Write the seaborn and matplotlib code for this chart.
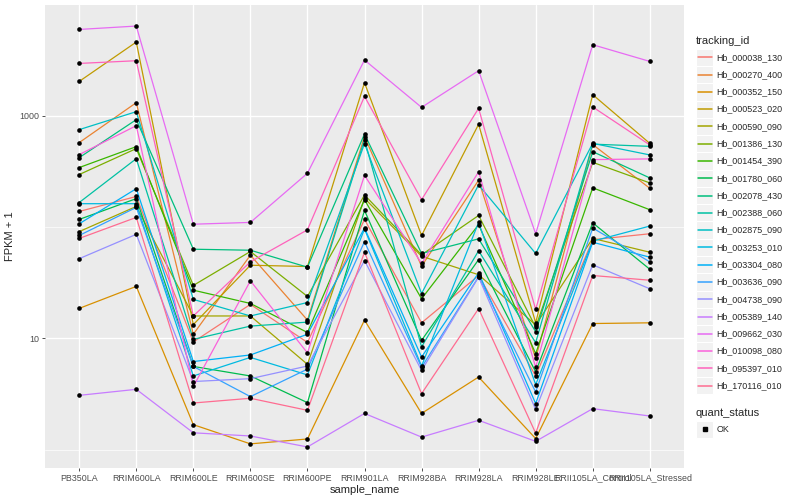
import numpy as np
import pandas as pd
import matplotlib
matplotlib.use('Agg')
import matplotlib.pyplot as plt
import seaborn as sns
from matplotlib.patches import Rectangle
from matplotlib.ticker import FixedLocator, NullFormatter

SAMPLES = ['PB350LA', 'RRIM600LA', 'RRIM600LE', 'RRIM600SE', 'RRIM600PE', 'RRIM901LA',
           'RRIM928BA', 'RRIM928LA', 'RRIM928LE', 'RRII105LA_Control', 'RRII105LA_Stressed']

# FPKM + 1 per gene, one value per sample
Hb_000038_130 = [138, 188, 9.3, 20.2, 9.2, 117, 13.8, 36.7, 4.6, 77, 87]
Hb_000270_400 = [573, 1308, 10.9, 55.9, 14.6, 648, 44.5, 263, 6.6, 550, 223]
Hb_000352_150 = [18.6, 29.3, 1.68, 1.13, 1.25, 14.6, 2.12, 4.5, 1.26, 13.6, 13.8]
Hb_000523_020 = [2030, 4580, 13.3, 45.4, 44.2, 1977, 84, 836, 13.8, 1543, 564]
Hb_000590_090 = [91, 153, 15.9, 15.9, 5.85, 181, 54.7, 37.3, 13.2, 79, 59.4]
Hb_001386_130 = [296, 506, 29.9, 60.3, 23.8, 194, 56.3, 127, 12.6, 381, 249]
Hb_001454_390 = [342, 527, 27.1, 20.6, 11.3, 176, 22.7, 105, 7.3, 225, 143]
Hb_001780_060 = [117, 180, 5.6, 4.6, 2.65, 141, 9.6, 51, 5.0, 109, 41.8]
Hb_002078_430 = [420, 921, 63.2, 61.9, 43.6, 685, 57.9, 78.3, 11.5, 475, 276]
Hb_002388_060 = [166, 411, 9.8, 12.9, 14.0, 609, 8.4, 61.2, 9.15, 555, 530]
Hb_002875_090 = [749, 1086, 22.4, 15.9, 21.0, 561, 25.3, 239, 57.9, 564, 444]
Hb_003253_010 = [162, 162, 4.6, 6.75, 4.7, 96, 5.65, 110, 3.85, 74.6, 102]
Hb_003304_080 = [107, 221, 6.2, 7.1, 10.9, 98, 6.8, 38.8, 2.6, 73, 53.6]
Hb_003636_090 = [84, 150, 5.6, 3.0, 5.3, 74, 5.5, 35.8, 3.3, 98, 48.7]
Hb_004738_090 = [52, 86, 4.1, 4.35, 5.65, 50, 5.16, 35.5, 2.3, 45.8, 27.9]
Hb_005389_140 = [3.08, 3.49, 1.42, 1.33, 1.06, 2.12, 1.30, 1.84, 1.19, 2.34, 2.01]
Hb_009662_030 = [5943, 6376, 106, 110, 304, 3159, 1187, 2533, 87, 4333, 3069]
Hb_010098_080 = [447, 813, 3.7, 32.9, 7.4, 291, 47.1, 313, 5.5, 403, 409]
Hb_095397_010 = [2944, 3113, 15.9, 48.7, 94.4, 1490, 176, 1163, 18.2, 1197, 546]
Hb_170116_010 = [79, 122, 2.63, 2.9, 2.26, 59.4, 3.19, 18.5, 1.41, 36.7, 33.3]

GENES = ['Hb_000038_130', 'Hb_000270_400', 'Hb_000352_150', 'Hb_000523_020', 'Hb_000590_090',
         'Hb_001386_130', 'Hb_001454_390', 'Hb_001780_060', 'Hb_002078_430', 'Hb_002388_060',
         'Hb_002875_090', 'Hb_003253_010', 'Hb_003304_080', 'Hb_003636_090', 'Hb_004738_090',
         'Hb_005389_140', 'Hb_009662_030', 'Hb_010098_080', 'Hb_095397_010', 'Hb_170116_010']
VALUES = [Hb_000038_130, Hb_000270_400, Hb_000352_150, Hb_000523_020, Hb_000590_090,
          Hb_001386_130, Hb_001454_390, Hb_001780_060, Hb_002078_430, Hb_002388_060,
          Hb_002875_090, Hb_003253_010, Hb_003304_080, Hb_003636_090, Hb_004738_090,
          Hb_005389_140, Hb_009662_030, Hb_010098_080, Hb_095397_010, Hb_170116_010]

# ggplot default hue palette for 20 levels
HUES = ['#F8766D', '#EA8331', '#D89000', '#C09B00', '#A3A500', '#7CAE00', '#39B600',
        '#00BB4E', '#00BF7D', '#00C1A3', '#00BFC4', '#00BAE0', '#00B0F6', '#35A2FF',
        '#9590FF', '#C77CFF', '#E76BF3', '#FA62DB', '#FF62BC', '#FF6C91']
PALETTE = dict(zip(GENES, HUES))

rows = []
for g, vals in zip(GENES, VALUES):
    for s, v in zip(SAMPLES, vals):
        rows.append({'tracking_id': g, 'sample_name': s, 'fpkm': v, 'quant_status': 'OK'})
df = pd.DataFrame(rows)
df['pos'] = pd.Categorical(df['sample_name'], categories=SAMPLES).codes

sns.set_style('darkgrid', {'axes.facecolor': '#EBEBEB', 'grid.color': 'white'})
plt.rcParams['font.family'] = ['Liberation Sans', 'DejaVu Sans']

W, H = 800, 500
fig = plt.figure(figsize=(8, 5), dpi=100)
L, R, T, B = 45, 684, 5, 468
ax = fig.add_axes([L / W, 1 - B / H, (R - L) / W, (B - T) / H])

sns.lineplot(data=df, x='pos', y='fpkm', hue='tracking_id', palette=PALETTE, units='tracking_id',
             estimator=None, sort=False, lw=0.9, legend=False, ax=ax)
sns.scatterplot(data=df, x='pos', y='fpkm', color='black', s=11, linewidth=0,
                marker='o', legend=False, ax=ax, zorder=3)

ax.set_yscale('log')
lo, hi = np.log10(df['fpkm'].min()), np.log10(df['fpkm'].max())
pad = 0.05 * (hi - lo)
ax.set_ylim(10 ** (lo - pad), 10 ** (hi + pad))
ax.set_xlim(-0.6, len(SAMPLES) - 1 + 0.6)

ax.set_xticks(range(len(SAMPLES)))
ax.set_xticklabels(SAMPLES)
ax.yaxis.set_major_locator(FixedLocator([10, 1000]))
ax.set_yticklabels(['10', '1000'])
ax.yaxis.set_minor_locator(FixedLocator([1, 100, 10000]))
ax.yaxis.set_minor_formatter(NullFormatter())
ax.grid(which='major', color='white', lw=1.0)
ax.grid(which='minor', axis='y', color='white', lw=0.5)
ax.tick_params(which='minor', length=0)
ax.tick_params(which='major', length=2.5, width=0.6, color='#333333', labelcolor='#4D4D4D',
               labelsize=6.4, pad=1.5, bottom=True, left=True)
for sp in ax.spines.values():
    sp.set_visible(False)
ax.set_xlabel('sample_name', fontsize=8, labelpad=2)
ax.set_ylabel('FPKM + 1', fontsize=8, labelpad=3)

# legend drawn in pixel coordinates
lax = fig.add_axes([0, 0, 1, 1], facecolor='none')
lax.set_xlim(0, W)
lax.set_ylim(H, 0)
lax.axis('off')
key = 17.28
lax.text(696, 40.7, 'tracking_id', fontsize=8, va='center', ha='left')
for i, g in enumerate(GENES):
    yc = 57.3 + i * key
    lax.add_patch(Rectangle((696, yc - key / 2), key, key, facecolor='#F2F2F2', edgecolor='white',
                            lw=0.8, zorder=1))
    lax.plot([697.5, 711.8], [yc, yc], color=PALETTE[g], lw=1.1, zorder=2)
    lax.text(716.5, yc, g, fontsize=6.4, va='center', ha='left')
lax.text(696, 412.7, 'quant_status', fontsize=8, va='center', ha='left')
lax.add_patch(Rectangle((696, 429.3 - key / 2), key, key, facecolor='#F2F2F2', edgecolor='white', lw=0.8))
lax.plot([704.6], [429.3], marker='s', color='black', ms=2.6)
lax.text(716.5, 429.3, 'OK', fontsize=6.4, va='center', ha='left')

fig.savefig('out.png', dpi=100, facecolor='white')
